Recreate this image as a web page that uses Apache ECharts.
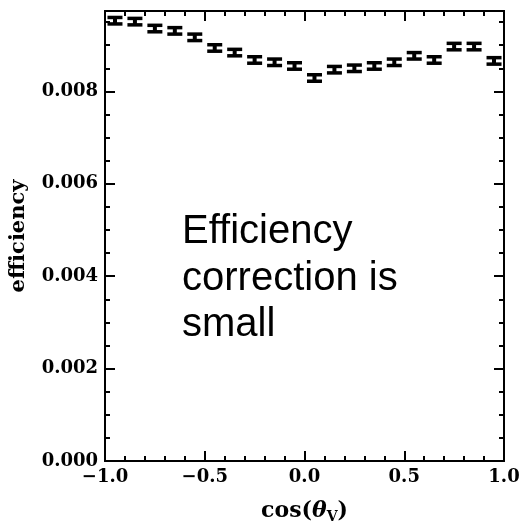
<!DOCTYPE html>
<html>
<head>
<meta charset="utf-8">
<script src="https://cdn.jsdelivr.net/npm/echarts@6/dist/echarts.min.js"></script>
<style>
  html, body { margin: 0; padding: 0; background: #fff; }
  #chart { width: 520px; height: 529px; }
</style>
</head>
<body>
<div id="chart"></div>
<script>
// Bin centres of cos(theta_V), 20 bins of width 0.1
const binCenters = [-0.95, -0.85, -0.75, -0.65, -0.55, -0.45, -0.35, -0.25, -0.15, -0.05,
                     0.05,  0.15,  0.25,  0.35,  0.45,  0.55,  0.65,  0.75,  0.85,  0.95];
// Efficiency per bin
const efficiency = [0.00953, 0.00951, 0.00936, 0.00931, 0.00917, 0.00894, 0.00884, 0.00868, 0.00863, 0.00855,
                    0.00829, 0.00847, 0.00850, 0.00855, 0.00863, 0.00877, 0.00868, 0.00897, 0.00897, 0.00866];
// Statistical uncertainty per bin
const efficiencyErr = [0.00007, 0.00007, 0.00007, 0.00007, 0.00007, 0.00007, 0.00007, 0.00007, 0.00007, 0.00007,
                       0.00007, 0.00007, 0.00007, 0.00007, 0.00007, 0.00007, 0.00007, 0.00007, 0.00007, 0.00007];

const yMax = 0.00974;
const labelFont = 'DejaVu Serif';

const points = binCenters.map((x, i) => [x, efficiency[i], efficiencyErr[i]]);

function xLabel(v) {
  const s = Math.abs(v).toFixed(1);
  return v < 0 ? '\u2212' + s : s;
}

// Error bar glyph: thick caps joined by a vertical stroke
function renderErrorBar(params, api) {
  const x = api.value(0), y = api.value(1), e = api.value(2);
  const top = api.coord([x, y + e]);
  const bot = api.coord([x, y - e]);
  const half = 7.5;
  const cap = { stroke: '#000', lineWidth: 3.5, fill: null };
  return {
    type: 'group',
    children: [
      { type: 'line', shape: { x1: top[0] - half, y1: top[1], x2: top[0] + half, y2: top[1] }, style: cap },
      { type: 'line', shape: { x1: bot[0] - half, y1: bot[1], x2: bot[0] + half, y2: bot[1] }, style: cap },
      { type: 'line', shape: { x1: top[0], y1: top[1], x2: bot[0], y2: bot[1] }, style: { stroke: '#000', lineWidth: 4 } }
    ]
  };
}

const axisLine = { show: true, onZero: false, lineStyle: { color: '#000', width: 2 } };

const chart = echarts.init(document.getElementById('chart'), null, { renderer: 'canvas' });
chart.setOption({
  animation: false,
  backgroundColor: '#fff',
  grid: { left: 105, right: 16, top: 11, bottom: 68, containLabel: false, outerBoundsMode: 'none' },
  xAxis: [
    {
      type: 'value', min: -1, max: 1, interval: 0.5, position: 'bottom',
      axisLine,
      axisTick: { show: true, inside: true, length: 10, lineStyle: { color: '#000', width: 2 } },
      minorTick: { show: true, splitNumber: 5, length: 5, lineStyle: { color: '#000', width: 2 } },
      splitLine: { show: false },
      axisLabel: { formatter: xLabel, color: '#000', fontFamily: labelFont, fontWeight: 'bold', fontSize: 18, margin: 7 },
      name: '{a|cos(}{t|\u03b8}{s|V}{a|)}',
      nameLocation: 'middle', nameGap: 37,
      nameTextStyle: {
        rich: {
          a: { fontFamily: labelFont, fontWeight: 'bold', fontSize: 22, color: '#000' },
          t: { fontFamily: labelFont, fontWeight: 'bold', fontStyle: 'italic', fontSize: 22, color: '#000' },
          s: { fontFamily: labelFont, fontWeight: 'bold', fontSize: 14, color: '#000', padding: [12, 0, 0, 0] }
        }
      }
    },
    {
      type: 'value', min: -1, max: 1, interval: 0.5, position: 'top',
      axisLine,
      axisTick: { show: true, inside: true, length: 10, lineStyle: { color: '#000', width: 2 } },
      minorTick: { show: true, splitNumber: 5, length: 5, lineStyle: { color: '#000', width: 2 } },
      splitLine: { show: false },
      axisLabel: { show: false }
    }
  ],
  yAxis: [
    {
      type: 'value', min: 0, max: yMax, interval: 0.002, position: 'left',
      axisLine,
      axisTick: { show: true, inside: true, length: 10, lineStyle: { color: '#000', width: 2 } },
      splitLine: { show: false },
      axisLabel: { formatter: v => v.toFixed(3), showMaxLabel: false, color: '#000', fontFamily: labelFont, fontWeight: 'bold', fontSize: 18, margin: 7 },
      name: 'efficiency', nameLocation: 'middle', nameGap: 76,
      nameTextStyle: { fontFamily: labelFont, fontWeight: 'bold', fontSize: 21, color: '#000' }
    },
    {
      type: 'value', min: 0, max: yMax, interval: 0.0005, position: 'left',
      axisLine,
      axisTick: { show: true, inside: true, length: 5, lineStyle: { color: '#000', width: 2 } },
      splitLine: { show: false },
      axisLabel: { show: false }
    },
    {
      type: 'value', min: 0, max: yMax, interval: 0.002, position: 'right',
      axisLine,
      axisTick: { show: true, inside: true, length: 10, lineStyle: { color: '#000', width: 2 } },
      splitLine: { show: false },
      axisLabel: { show: false }
    },
    {
      type: 'value', min: 0, max: yMax, interval: 0.0005, position: 'right',
      axisLine,
      axisTick: { show: true, inside: true, length: 5, lineStyle: { color: '#000', width: 2 } },
      splitLine: { show: false },
      axisLabel: { show: false }
    }
  ],
  graphic: [
    {
      type: 'text', left: 182, top: 209,
      style: {
        text: 'Efficiency\ncorrection is\nsmall',
        fontFamily: 'Liberation Sans', fontSize: 40, lineHeight: 46.5, fill: '#000'
      }
    }
  ],
  series: [
    {
      type: 'custom', xAxisIndex: 0, yAxisIndex: 0,
      renderItem: renderErrorBar,
      encode: { x: 0, y: 1 },
      data: points,
      clip: false
    }
  ]
});
</script>
</body>
</html>
